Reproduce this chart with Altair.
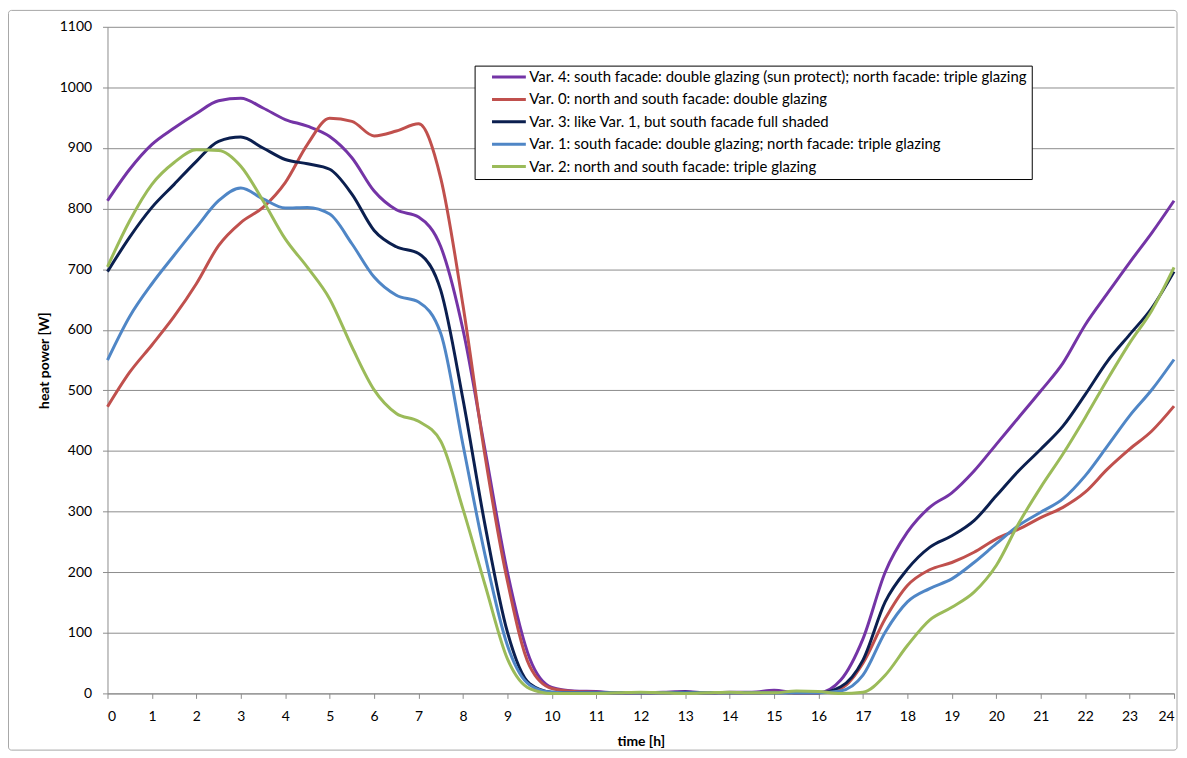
import altair as alt
import pandas as pd

hours = [0, 0.5, 1, 1.5, 2, 2.5, 3, 3.5, 4, 4.5, 5, 5.5, 6, 6.5, 7, 7.5, 8, 8.5,
         9, 9.5, 10, 10.5, 11, 11.5, 12, 12.5, 13, 13.5, 14, 14.5, 15, 15.5, 16,
         16.5, 17, 17.5, 18, 18.5, 19, 19.5, 20, 20.5, 21, 21.5, 22, 22.5, 23, 23.5, 24]

var4 = [813, 865, 906, 933, 957, 978, 982, 966, 947, 936, 919, 884, 829, 798, 786, 737, 600, 400,
        200, 58, 10, 4, 3, 1, 1, 2, 3, 1, 2, 2, 5, 1, 1,
        22, 90, 200, 266, 307, 331, 367, 411, 455, 499, 545, 608, 660, 711, 760, 813]
var0 = [473, 530, 575, 622, 676, 739, 777, 802, 843, 906, 949, 944, 920, 928, 940, 850, 640, 390,
        185, 45, 8, 3, 2, 1, 1, 1, 1, 1, 1, 1, 2, 1, 1,
        8, 50, 123, 178, 204, 216, 233, 255, 271, 290, 307, 332, 370, 403, 433, 474]
var3 = [696, 753, 802, 840, 878, 911, 918, 900, 881, 874, 865, 824, 764, 737, 726, 665, 485, 276,
        101, 16, 2, 1, 1, 1, 1, 1, 2, 1, 1, 1, 1, 1, 1,
        11, 55, 151, 205, 241, 260, 285, 326, 367, 403, 441, 493, 548, 592, 636, 696]
var1 = [550, 622, 676, 723, 769, 813, 834, 816, 801, 802, 791, 742, 687, 657, 646, 594, 410, 227,
        79, 14, 2, 1, 1, 1, 1, 1, 1, 1, 1, 1, 1, 1, 1,
        4, 30, 101, 151, 173, 189, 216, 247, 277, 299, 321, 359, 408, 458, 501, 551]
var2 = [704, 780, 840, 876, 897, 896, 870, 813, 750, 703, 651, 572, 501, 462, 449, 416, 304, 178,
        57, 8, 0, 0, 0, 1, 2, 1, 0, 1, 2, 1, 1, 4, 3,
        0, 2, 30, 79, 121, 142, 167, 211, 280, 340, 395, 455, 518, 578, 632, 703]

labels = [
    "Var. 4: south facade: double glazing (sun protect); north facade: triple glazing",
    "Var. 0: north and south facade: double glazing",
    "Var. 3: like Var. 1, but south facade full shaded",
    "Var. 1: south facade: double glazing; north facade: triple glazing",
    "Var. 2: north and south facade: triple glazing",
]
colors = ["#7434A6", "#C0504D", "#0B1F4F", "#4F86C6", "#9BBB59"]
series = [var4, var0, var3, var1, var2]

rows = []
for lab, vals in zip(labels, series):
    for h, v in zip(hours, vals):
        rows.append({"time": h, "power": v, "series": lab})
df = pd.DataFrame(rows)

FONT = "Lato"
GRID = "#8C8C8C"

lines = alt.Chart(df).mark_line(strokeWidth=3, interpolate="monotone").encode(
    x=alt.X("time:Q",
            scale=alt.Scale(domain=[0, 24], nice=False, zero=False),
            axis=alt.Axis(values=list(range(0, 25)), title="time [h]", grid=False,
                          tickSize=5, labelPadding=11, titlePadding=11)),
    y=alt.Y("power:Q",
            scale=alt.Scale(domain=[0, 1100], nice=False),
            axis=alt.Axis(values=list(range(0, 1101, 100)), format="d", title="heat power [W]",
                          grid=True, tickSize=5, labelPadding=11, titlePadding=8)),
    color=alt.Color("series:N",
                    scale=alt.Scale(domain=labels, range=colors),
                    sort=labels,
                    legend=alt.Legend(title=None, orient="none", legendX=369, legendY=39,
                                      fillColor="white", strokeColor="#000000", padding=4,
                                      symbolType="stroke", symbolSize=1156, symbolStrokeWidth=3,
                                      symbolOffset=12, labelOffset=2, clipHeight=15,
                                      labelLimit=0,
                                      labelFont=FONT, labelFontSize=15, labelColor="#000000",
                                      rowPadding=6.5)),
)

frame = alt.Chart(pd.DataFrame({"a": [0]})).mark_rect(
    fill="white", fillOpacity=0, stroke="#A6A6A6", strokeWidth=1, cornerRadius=3
).encode(x=alt.value(-99.5), x2=alt.value(1075), y=alt.value(-16.5), y2=alt.value(727))

chart = alt.layer(frame, lines).properties(
    width=1072, height=670,
    autosize=alt.AutoSizeParams(type="none"),
    padding={"left": 100, "top": 17, "right": 5, "bottom": 58},
).configure_view(stroke=None).configure_axis(
    domainColor=GRID, tickColor=GRID, gridColor=GRID, gridWidth=1,
    labelFont=FONT, labelFontSize=14, labelColor="#000000",
    titleFont=FONT, titleFontSize=14, titleFontWeight="bold", titleColor="#000000",
)

chart.save("out.html", embed_options={"renderer": "svg", "actions": False})
